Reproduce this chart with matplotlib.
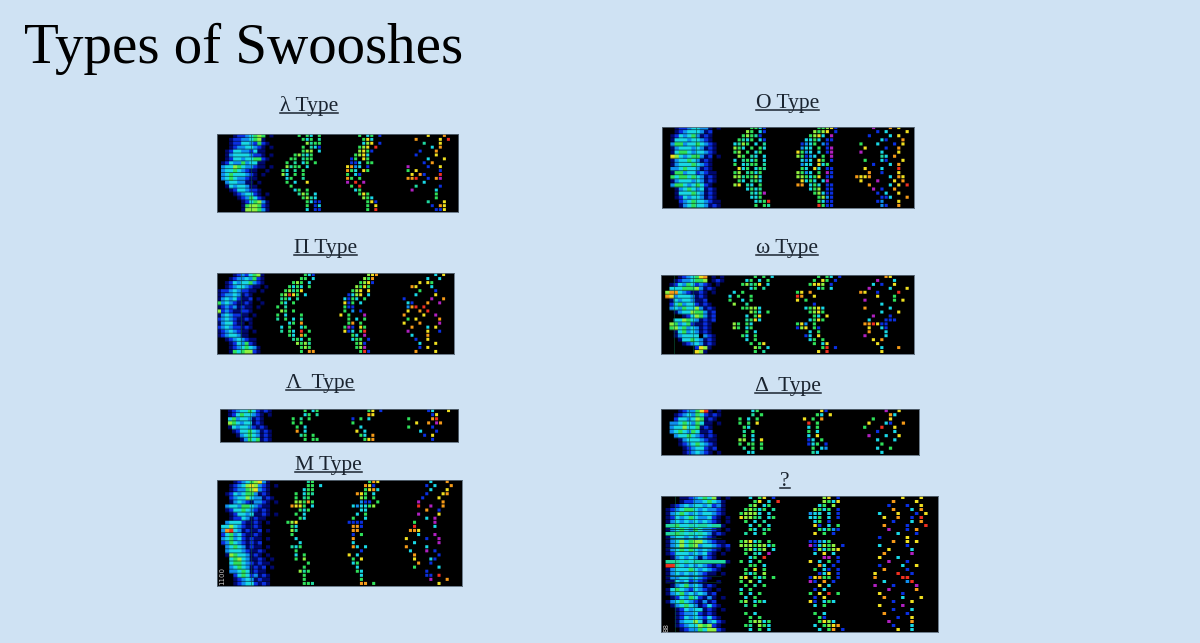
import numpy as np
import matplotlib
matplotlib.use('Agg')
import matplotlib.pyplot as plt
from matplotlib.colors import to_rgb
from matplotlib.lines import Line2D

W, H = 1200, 643
FUNDO = '#cfe2f3'

# letter -> colour of a heatmap cell
CORES = {'.': '#000000', 'n': '#00086e', 'b': '#0a2fe0', 'a': '#0f8ff0', 'c': '#19d8e6',
         't': '#1fd8a0', 'g': '#2fe05a', 'l': '#90f040', 'y': '#f0e020', 'o': '#f59a18',
         'r': '#f03020', 'p': '#b020c0'}

# each row: four blocks of 15 columns, one for each strip of the spectrogram
LAMBDA_TYPE = [
"....nbbacglg.n .....g.gc.g .....g.cg.b .......y...o",
"...nbbaacgln.. ......gcg.t ......gyc.. ....o.....y.r",
"...nbbccabgbn. .......ltgg ......cly.b ......t...y",
"...nbaaccabn.n ......g.tcb .....gly.r ........c.o",
"..nbccaabcnn.. ......gll.c .....lygb .....b...o",
"..naccccabbn.n ....gltcg.. ....glyc.. ....b....y",
"..nbccaccggbn. ...gg.tgg.. ...bg.yg.. .......c...y",
".nbcaagaccnn.. ..g.t.cg.g. ...bbc.gg. ......b.o",
".acclgcaabnn.n ..ltgg.c... ..yoac.b.. ..p....b..y",
".accgcabnn..n. .gc.t.g.... ..ogc.yg.. ..g.y.....b",
".acgcccabn.n.. .lc.g.g.... ..g.cb.... ...y.ob...r",
".acgcaabnn.... ..cg..t.... ..og.g.... ..oor..b.op",
"..accaann.n... ..g.c..y... ..p.r.p... ......c....",
"..ncaccann.... ...g....... ...g.r.... ....t.....b",
"...nbccabbn... ....cg.g... ....cg.... ...p.....c",
"....nbaccbn.n. .....tlg.c. .....gyg.. .........g.",
".....nbagcbn.. ......gltc. ......lgc. .........g",
"......nbcglan. .......gcbb .......gyb .......t...y",
"......ngllgbn. .......g.bc .......g.y ........b.oy",
"......nlllgan. .......c.bb .......g.r .........bby",
]
O_TYPE = [
"...nbbaccaan.n ......ggcb .......gglyb .....p...o.y",
"...nbacccanb.. .....lg.cb ......lgly.b ......b.c....y",
"..nbcacganbn.. ....glgtb. .....glyc.p ....b....c.y",
"..ncccaccabn.. ...gtcg.cb ....ccgc.bb .......cb...o",
"..aggaccgcabn. ..ctlg.c.t ...bacg.ab. ..g...c...b.y",
"..nacccacanbn. ..lgc.g.gc ...acc.g.bp ...y....b..o",
"..ncggcaccabn. ..gl.g.cg. ..ygac.c.bp ..p....c...y",
"..ylcacgganb.n ...lg.tc.c ..lgbac.g.p .......tc.o",
"..naccgcanbn.. ..c.tgcg.c ...cac.yg.b ...g...cb...y",
"..nacccgcabn.. ..g.ctgg.t ...acc.ycg. .....b...c.o",
"..aacgccanbn.. ...ycg.cgt ...gc.yc.bb ...y...c...r",
"..nggaccbabnn. ..gl.tgcg. ..lgac.g.pb ....o..b...y",
"..gcggcgcanbn. ..lltgglc. ..llgcgy.bb .oyyo....c.oy",
"..nacccacanbn. ...gc.tgc. ...ycgc.cp. ..y...p...y.o",
"..aggcacgcbn.. ..ly.tc.g. ..oo.cgc.bb ....o....c.y.r",
"...nacgcacnbn. .....cgct. .....cgl.bb .....p.b..o",
"...ncccgcanbn. ......tcgp ......glcbb ......b.c..y",
"...nbcaccanbn. ......ccg. .......glab .......bbc...o",
"....bacgccabnn .......ctgr .......gcbb ......ba...y",
"....nacgccanbn .......g.gt .......rgbb .......ab..o",
]
PI_TYPE = [
"....nbabcgln.. .......gcb ........lyo ..........c.y",
"...nbaacagbn.. ......gg.c .......lgo ........c..c",
"..nbcaccgabn.. ....glg.c ......glyb ......y.yg",
"..nbaccabnn.n. ...gcgc.g .....lgyg. ....oy...c",
"nbbacabbnn.n.. ..gltgy.. ....gly.y ......g...b",
"nbaacanbn..... .glryg.c ...bcly.c .....c....y",
"nacacbnnb.n... .tgc.t.... ..cbgc.g. ..b......p..o",
"gacabnnbn..n.. .gc.g.... ..ybg.c.. ...cb...o..p",
"nbabanbnn.n... g.t...... ..gbb..... ...aor.r.",
"lbabnnbbn..... .lg.g.... ..g.a.b.. ...y..o.r",
"nacabbnn.n.... g.c...g.. .y.g...p. ..o....y..p",
"bacabnnbn..... t.g.c.t.. ...g.c.g. ...g.y.....o",
"naccbnn.n..... ...cg.o.. ...go.g.. ..y...o....p",
"bacabbnbn..... .c.g..cg. ..gpb.yg. ....o...c.y",
"nbacabnn.n.... .t.gc.r.g ..ybc.gr. ...p....y..b",
"nbaccann...... ...gc.og.. ....gc.p. ....c...o",
"..nbacabnn.... ....tgc.g ....cgg.b .....b..y",
"...nbcagbn.... .....lglt .....glb. ......c...y",
"...nbacgcan... ......glg. .....glp. ......b.y",
"...ngcgllbn... ......g.oo ......grb .....o....y",
]
OMEGA_TYPE = [
"....nbacgyo.n.n .......g.g.c .......g.gc.b ........oy",
"...nbaacggl.nbn .....cg.c.g ......g.yg.b ......p...c",
"..nbcagcbabn.n ....gltgy.c .....gyyl.b .....c.b..y",
"..cccggglanbn. ......cg.t .......cg.c ....p....c...y",
".loocabnnbn.n ..c.g... ..gy.o. ..oy..b....r",
".oyacccanbn.. .c.g..g. ..ro..y. ......y...g",
"..ncaccannb.. .g..c.g. ..y.g... ...p......g.y",
"..bcgaccbnbn. ..l..t.. ......b. .......c",
"..acagcclanbn ....ggllc. ....cglyc ...o.....c",
"...nacclgganb ......lgc.g .....glyg .......c...y",
".....nbclganb .....c.gy. ......gc.y .....p...b",
"...cclgcanbnb .....tgyc .....cgyg ....c...bbb",
"..lgacgbnnbn. ..lg.gc.. ..gya.g.. ...oorybb",
"..glcgacanbn. ..lg.cg.. ..bly.gb. ....y..cb",
"...ncgacanbn. .....g.c. .....c.g. ....o...c",
"...nacccc.abn ....gc.g. ....bc.y. ...p....c",
"....nccgcanbn .....c.g.. .....cg.g. .....y.o",
".....nbacanbn ......g.gy ......g.cy ......y",
"........byln. .......lg.c ........gr.b .......c...o",
"........yln.. .......g.t .......y.r .......y",
]
LAMBDA2_TYPE = [
"..nbaccgcbnbn ......g.cg .......gy.b .......bc...y",
"..nbcgccabn.n ......cg.t .......oy.. ........by",
"..cgaccanbn.. ...g.t.g.. ...b.g.c.. ..g.....or",
"..lgcaccnbn.. ...g.g.... ...g.... ....y..o.po",
"..ncaccabnbn. ....g.c... .....c.. ..g.....b",
"...nbccgcanbn ....o.c.. ....y.c.. .....c...b",
"....nacgcanbn .....tg.g .....gc.o ......b.y",
".....nagcgnbn ......g.gg ......gyo ........b",
]
DELTA_TYPE = [
"....nbaagyrn.n ......cg .......yb .......p..y",
"...nbacagcbnbn ......t.g ......gc.y ........oc",
"...bccaclgnbn. ...g.c.g ...y.g.o ....g...y",
"..aacgcagcnn.n ...g.g.y ....r.g. ...y...cb..o",
"..acclccgnbn.. ....gc.. ....c.g. ..g...r..y",
"..acgcagcnnb.. ....t.g. ....g.c. .....b...c",
"...accgcabnbn. ....g.c. ....c.y. ...p...c..y",
"....nacccabnn. ...ll.c.y ....bc.g .....c...c",
"....nbacgcabn. ...g.gg.g ....bcg.b ......g",
".....nbaccbnb. ....t.g.g .....g.ca .....c..g",
".....nbacabn.n .....cc. .....tc. ......c",
]
M_TYPE = [
"....nbacglyan.. .......tg .......goy .......c...o",
"...nbaclylabn.n .......gg.c ......oyb ......b.c...o",
"...nbaaglyabn.. ......cgg. ......gyoc .......c...y",
"..nbcacgganbn.. ....g.cgt ....oyg.c ......b...yo",
"...bacclcaanbn. ....g.tg. .....lg.g .....b...y",
"...nacabnaabn.n ....llgog .....abb.g ....p.....o",
"..accaggcabnn.. ...oyyg.c ...caccgl. ....r..p..o",
"..nbccgcabnbn.. .....gcg. .....cc.. ......o..b",
"...nbccacnnbn.n ....g.c.. ....c.g. ....p....y",
"...nbbcanbnn... .....gc. ...g..c.. ......c.p",
"..acccbnnbn.n.. ..gly.... ..bbbb.. ...g....p",
".cclcabnnbn.... ...gc.... ...oob.. ...r....c",
".aorcanbnnb.n.. ...lt..... ...oo.... ..ooy",
".bcgacbnnbn.... ...g..... ...b.g.. ....c...p",
".acgacbnbnn.n.. ....c.... ...o..... .y....b..p",
".bagcabnbnb.... .....c.. ...c.. ...c.....p",
"..acgcanbnn.n.. ...tcg... ...oc.c. .o....c",
"..acccabnnbn... ....g.. .....b.. ..c...p.b",
"..nlgccanbn.n.. ....c.g ..y.c.. ...o.....b",
"...cglcannbn.n. ....g.l ...g.y. ...y...cb",
"...cggcabnbnn.. .......g. ...cg.. ....o..b",
"...acgcanbnb.n. ......g ....c... ...g.....c",
"...aacgcnbnn... .....ltg ....gc.. ......b",
"....bcgcbanbn.. ......g. .....c.. ......bb.r",
"....nbacanbnn.. ......g. .....g. .......p...o",
"....nbaccbnbn.. ......ggt .....oo.g .........y",
]
QUESTION_TYPE = [
"....nnbacgcln.n ....c.gy.b .....ly.b .......y...y",
"....nbbaacgcan. .....gy.c.r .....lgcy. .....o....y",
"..nbacaccacban. ....gl.cg. ....cg.l. ....b...b..y",
".nbacggcacaabn. ...glgcg.t ...lgcg.b .....o...c.o",
".nacgcacaccabn. ..glllc.c ..acc.c.b ..c...y...b.y",
".nbcacgcaacbn.n ..yllgt.cg ..ccg.c.b ...y..o..b.r",
".nacacacacabn.n ...g.c.t. ...cg.b.. .....b...c.o",
".ttgcctcttcttn. ....c.g.c ...yb.c.g ...o....b...r",
".nacgcagcaabn.n ....gc.tg ....gcgab ....p...b.o",
".ttgtctctcanbn. ...t.c.g. ...y.g.b. ......c...b",
".naccacacabn... ......... ......... ..b.....y",
".naclcgllcabnn. ..glycg.g ..bbacg.. .....o..y.y",
".naclcglaccabnb ..lllgllcg ..pbclgl.b ..c.....b",
".nacgcgcacabn.n ...glcgl.c ...blcgly. ....y....c",
".nbcccacacbn.n. ...g.tc.p ...c.y.c ...o.....p",
"..nacacanabn... ....cg.r .....pp.b ..y...c",
".tttctctttttttn ..g.c.g.. ..y.c.g.b ....p...b",
".rrtcacacabnbn. ....gg.c. ....oc.b ..b....c..y",
".nacccgcacabn.. ...g.y.g ...g.cb.b ...o....b",
".nacacacabnn.n. ...gcg.l ....bcy.b .y....r..b",
".naaccacabn.... ..ly.gcg.g ..byogg.b .o.....rr",
".nncacbabn..n.. ..g.l.c. ..pb.o.b ...c....ar",
"..nacgacanbn... ...g.t.g ....y.c. .p...b....p",
".ncgcabcabn.n.. ..c.g.. ...b.c. ....p.....o",
".nacgacacanb... ..g.c.g ..g.y.r.g ..y....b",
"..nbcagcbnan.n. ...c.g.. ...b.y.. ...o...c...y",
".nacgcabnanb... ..gl.cgc. ..yb.cgc. .....b...y",
"..nacgcanbcbn.. ...t.g.. ...c.g.. ..y....p",
"...nbcaccnbn.n. ...... ...... .....b...c",
"...nbaacbnbn... ...g.c. ...g.c. ...o....b",
"...nbcacabcbn.. ....g.g ....gb. ......b..y",
"...nacclcnacbn. ....gllcg ....gylc. ....p....o",
"...nbacclglbn.. ...gt.lgc ...c.glyo .....b...c",
"....nbaagcllbn. ....c.g.c ....c.go.b ......y..c",
]


def linhas_para_rgb(linhas):
    cells = []
    for r in linhas:
        s = "".join(b.ljust(15, '.') for b in r.split()).ljust(60, '.')
        cells.append([to_rgb(CORES[ch]) for ch in s[:60]])
    arr = np.array(cells)
    # every cell becomes 4x4 so the rows and the dots stay apart
    grande = np.repeat(np.repeat(arr, 4, axis=0), 4, axis=1)
    grande[3::4, :60] *= 0.5
    grande[3::4, 60:] = 0
    grande[:, 63::4] = 0
    return grande


# grid, (x0, y0, x1, y1) in pixels, strip 1 vertical and horizontal rules (cell units)
paineis = [
    (LAMBDA_TYPE, (217, 134, 458, 212), [8.5], []),
    (O_TYPE, (662, 127, 914, 208), [8], []),
    (PI_TYPE, (217, 273, 454, 354), [6], []),
    (OMEGA_TYPE, (661, 275, 914, 354), [3, 7.5], []),
    (LAMBDA2_TYPE, (220, 409, 458, 442), [7.5], []),
    (DELTA_TYPE, (661, 409, 919, 455), [6.5], []),
    (M_TYPE, (217, 480, 462, 586), [8.3], []),
    (QUESTION_TYPE, (661, 496, 938, 632), [3, 7.2], [8.3, 10.4, 12.9, 20, 21.5]),
]
# label, left x, baseline y
rotulos = [
    ('λ Type', 280, 111), ('O Type', 756, 108), ('Π Type', 294, 253), ('ω Type', 756, 253),
    ('Λ  Type', 286, 388), ('Δ  Type', 755, 391), ('M Type', 295, 470), ('?', 780, 486),
]

fig = plt.figure(figsize=(W / 100, H / 100), dpi=100, facecolor=FUNDO)

for grid, (x0, y0, x1, y1), vs, hs in paineis:
    ax = fig.add_axes([x0 / W, 1 - y1 / H, (x1 - x0) / W, (y1 - y0) / H])
    img = linhas_para_rgb(grid)
    ax.imshow(img, aspect='auto', interpolation='bilinear',
              extent=(0, 60, len(grid), 0))
    for v in vs:
        ax.axvline(v, color='#0b5a3c', lw=0.7, alpha=0.6)
    for h in hs:
        ax.hlines(h, 1, 13, color='#062a24', lw=0.7, alpha=0.8)
    ax.set_xticks([])
    ax.set_yticks([])
    for s in ax.spines.values():
        s.set_color('#5a6a78')
        s.set_linewidth(0.6)

fig.text(24 / W, 1 - 63 / H, 'Types of Swooshes', family='Liberation Serif', fontsize=41, color='black')

fig.canvas.draw()
rend = fig.canvas.get_renderer()
for txt, x, y in rotulos:
    t = fig.text(x / W, 1 - y / H, txt, family='Liberation Serif', fontsize=15.5, color='#1a2430')
    bb = t.get_window_extent(rend)
    fig.add_artist(Line2D([bb.x0 / W, bb.x1 / W], [1 - (y + 2) / H] * 2, color='#1a2430', lw=1.1))

fig.text(222 / W, 1 - 576 / H, '1100', color='#c8c8c8', fontsize=5, rotation=90, ha='center', va='center')
fig.text(666 / W, 1 - 627 / H, '88', color='#c8c8c8', fontsize=5, rotation=90, ha='center', va='center')

fig.savefig('out.png', dpi=100, facecolor=FUNDO)
